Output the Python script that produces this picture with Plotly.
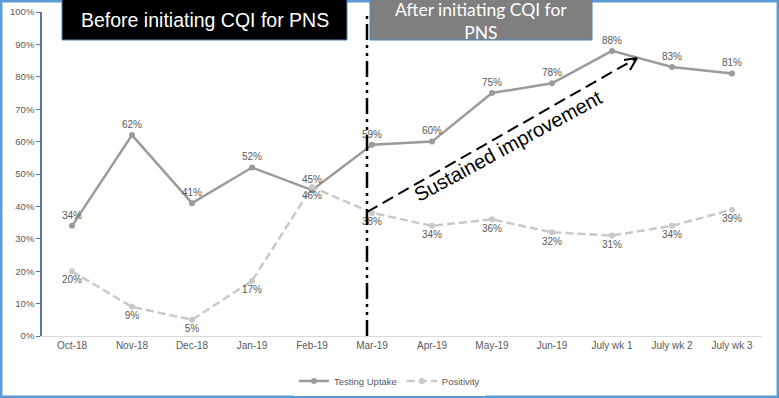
import plotly.graph_objects as go

categories = ["Oct-18", "Nov-18", "Dec-18", "Jan-19", "Feb-19", "Mar-19", "Apr-19",
              "May-19", "Jun-19", "July wk 1", "July wk 2", "July wk 3"]
testing_uptake = [34, 62, 41, 52, 45, 59, 60, 75, 78, 88, 83, 81]
positivity = [20, 9, 5, 17, 46, 38, 34, 36, 32, 31, 34, 39]
y_ticks = [0, 10, 20, 30, 40, 50, 60, 70, 80, 90, 100]

W, H = 779, 398
L, R, T, B = 42, 17, 12, 62
PW, PH = W - L - R, H - T - B


def px(x):
    return (x - L) / PW


def py(y):
    return (H - B - y) / PH


fig = go.Figure()
fig.add_trace(go.Scatter(
    x=categories, y=testing_uptake, name="Testing Uptake", mode="lines+markers+text",
    line=dict(color="#9b9b9b", width=2.5), marker=dict(size=6, color="#9b9b9b"),
    text=[f"{v}%" for v in testing_uptake], textposition="top center",
    textfont=dict(family="Liberation Sans, Arial", size=10, color="#595959"),
))
fig.add_trace(go.Scatter(
    x=categories, y=positivity, name="Positivity", mode="lines+markers+text",
    line=dict(color="#c9c9c9", width=2.5, dash="8px,4px"), marker=dict(size=6, color="#c9c9c9"),
    text=[f"{v}%" for v in positivity], textposition="bottom center",
    textfont=dict(family="Liberation Sans, Arial", size=10, color="#595959"),
))

shapes = [
    # outer border
    dict(type="rect", xref="paper", yref="paper", x0=px(1.2), x1=px(777.8), y0=py(1.2), y1=py(396.8),
         line=dict(color="#5b9bd5", width=2.5), layer="above"),
    # before box
    dict(type="rect", xref="paper", yref="paper", x0=px(62), x1=px(347), y0=py(40), y1=py(-2),
         fillcolor="black", line=dict(color="#4a86c5", width=1), layer="above"),
    # after box
    dict(type="rect", xref="paper", yref="paper", x0=px(370), x1=px(592), y0=py(40), y1=py(-2),
         fillcolor="#7f7f7f", line=dict(color="#4a86c5", width=1), layer="above"),
    # vertical separator
    dict(type="line", xref="paper", yref="paper", x0=px(367), x1=px(367), y0=py(336), y1=py(13),
         line=dict(color="black", width=2.5, dash="16px,5px,3px,5px,3px,5px"), layer="above"),
    # arrow shaft
    dict(type="line", xref="paper", yref="paper", x0=px(367), x1=px(635), y0=py(212), y1=py(59),
         line=dict(color="black", width=2, dash="12px,6px"), layer="above"),
    # arrow head (chevron)
    dict(type="line", xref="paper", yref="paper", x0=px(637), x1=px(624), y0=py(58), y1=py(60),
         line=dict(color="black", width=2), layer="above"),
    dict(type="line", xref="paper", yref="paper", x0=px(637), x1=px(630), y0=py(58), y1=py(70),
         line=dict(color="black", width=2), layer="above"),
]

annotations = [
    dict(xref="paper", yref="paper", x=px(204.5), y=py(20), text="Before initiating CQI for PNS",
         showarrow=False, font=dict(family="Liberation Sans, Arial", size=19.5, color="white"),
         xanchor="center", yanchor="middle"),
    dict(xref="paper", yref="paper", x=px(481), y=py(21), text="After initiating CQI for<br>PNS",
         showarrow=False, font=dict(family="Lato, Open Sans", size=17.5, color="white"),
         xanchor="center", yanchor="middle"),
    dict(xref="paper", yref="paper", x=px(508), y=py(146), text="Sustained improvement",
         showarrow=False, textangle=-28.5,
         font=dict(family="Liberation Sans, Arial", size=20, color="black"),
         xanchor="center", yanchor="middle"),
]

fig.update_layout(
    width=W, height=H,
    margin=dict(l=L, r=R, t=T, b=B, autoexpand=False),
    paper_bgcolor="white", plot_bgcolor="white",
    shapes=shapes, annotations=annotations,
    showlegend=True,
    legend=dict(orientation="h", xref="paper", x=px(389.5), xanchor="center",
                y=py(381), yanchor="middle",
                font=dict(family="Liberation Sans, Arial", size=9.5, color="#595959"),
                itemwidth=30),
    xaxis=dict(type="category", range=[-0.5, 11.5], showgrid=False,
               showline=True, linecolor="#d9d9d9", linewidth=1, ticks="",
               tickangle=0,
               tickfont=dict(family="Liberation Sans, Arial", size=10, color="#595959")),
    yaxis=dict(range=[0, 100], tickvals=y_ticks, ticktext=[f"{v}%" for v in y_ticks],
               showgrid=False, zeroline=False, showline=True, linecolor="#5a75a8", linewidth=1.5,
               ticks="outside", ticklen=4, tickcolor="#5a75a8",
               tickfont=dict(family="Liberation Sans, Arial", size=9.5, color="#595959")),
)

fig.write_html("out.html", config={"displayModeBar": False},
               post_script="document.body.style.margin='0';document.body.style.overflow='hidden';")
